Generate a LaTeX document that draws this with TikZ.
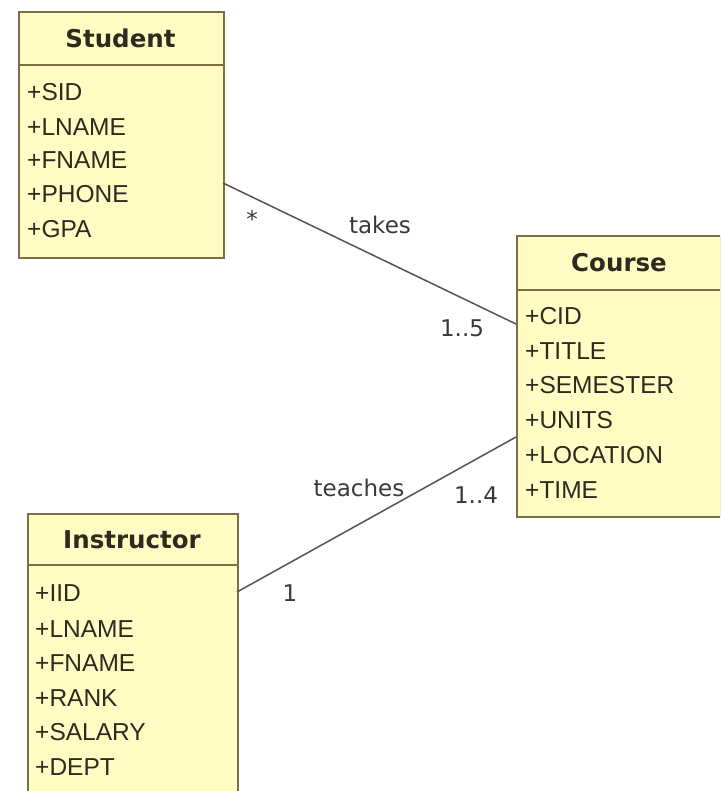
\documentclass[tikz,border=0pt]{standalone}
\usepackage{fontspec}
\setmainfont{Liberation Sans}
\newfontfamily\lblfont{DejaVu Sans}
\newfontfamily\headfont{DejaVu Sans}
\begin{document}
\begin{tikzpicture}[x=1pt,y=-1pt,
  box/.style={draw=boxline,fill=boxfill,line width=1.6pt,anchor=north west,inner sep=0pt},
  head/.style={font=\headfont\bfseries\fontsize{24.5}{24.5}\selectfont,text=txt,anchor=center},
  attr/.style={font=\fontsize{24.5}{24.5}\selectfont,text=txt,anchor=west,inner sep=0pt},
  lbl/.style={font=\lblfont\fontsize{23}{23}\selectfont,text=lbltxt,inner sep=0pt},
  conn/.style={draw=connline,line width=1.5pt}]
\definecolor{boxfill}{HTML}{FFFCC4}
\definecolor{boxline}{HTML}{7D6E45}
\definecolor{txt}{HTML}{2E2A1E}
\definecolor{lbltxt}{HTML}{3A3838}
\definecolor{connline}{HTML}{5E5050}
\useasboundingbox (0,0) rectangle (720,791);
\clip (0,0) rectangle (720,791);
% Student
\node[box,minimum width=205pt,minimum height=246pt] (student) at (18,11) {};
\draw[boxline,line width=1.6pt] (18,65) -- (223,65);
\node[head] (sname) at (120.5,38) {Student};
\node[attr] (s1) at (27,92) {+SID};
\node[attr] (s2) at (27,127) {+LNAME};
\node[attr] (s3) at (27,160) {+FNAME};
\node[attr] (s4) at (27,194) {+PHONE};
\node[attr] (s5) at (27,229) {+GPA};
% Course
\node[box,minimum width=204pt,minimum height=281pt] (course) at (516,235) {};
\draw[boxline,line width=1.6pt] (516,290) -- (720,290);
\node[head] (cname) at (619,263) {Course};
\node[attr] (c1) at (525,316) {+CID};
\node[attr] (c2) at (525,351) {+TITLE};
\node[attr] (c3) at (525,385) {+SEMESTER};
\node[attr] (c4) at (525,420) {+UNITS};
\node[attr] (c5) at (525,455) {+LOCATION};
\node[attr] (c6) at (525,490) {+TIME};
% Instructor
\node[box,minimum width=210pt,minimum height=300pt] (instr) at (27,513) {};
\draw[boxline,line width=1.6pt] (27,565) -- (237,565);
\node[head] (iname) at (132,540) {Instructor};
\node[attr] (i1) at (35,593) {+IID};
\node[attr] (i2) at (35,629) {+LNAME};
\node[attr] (i3) at (35,663) {+FNAME};
\node[attr] (i4) at (35,698) {+RANK};
\node[attr] (i5) at (35,732) {+SALARY};
\node[attr] (i6) at (35,767) {+DEPT};
% connectors
\coordinate (sa) at (223,183);
\coordinate (ca) at (516,324);
\coordinate (ia) at (237,592);
\coordinate (cb) at (516,437);
\draw[conn] (sa) -- (ca);
\draw[conn] (ia) -- (cb);
\node[lbl] (star) at (252,219) {*};
\node[lbl] (takes) at (380,225) {takes};
\node[lbl] (m15) at (462,328) {1..5};
\node[lbl] (teaches) at (359,488) {teaches};
\node[lbl] (m14) at (476,495) {1..4};
\node[lbl] (one) at (290,593) {1};
\end{tikzpicture}
\end{document}
